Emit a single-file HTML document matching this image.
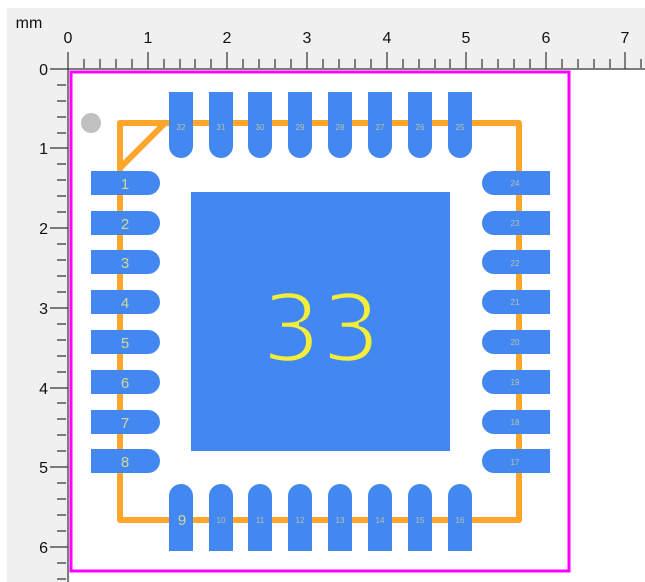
<!DOCTYPE html>
<html><head><meta charset="utf-8"><style>
html,body{margin:0;padding:0;background:#fff;}
svg{display:block;font-family:"Liberation Sans","DejaVu Sans",sans-serif;}
</style></head><body>
<svg width="645" height="582" viewBox="0 0 645 582" xmlns="http://www.w3.org/2000/svg">
<rect x="7" y="8" width="638" height="61" fill="#f0f0f0"/>
<rect x="7" y="8" width="63" height="574" fill="#f0f0f0"/>
<g stroke="#333" stroke-width="1.2" fill="none">
<path d="M68 69H645M84 59V68M100 59V68M116 59V68M132 59V68M164 59V68M180 59V68M195 59V68M211 59V68M243 59V68M259 59V68M275 59V68M291 59V68M323 59V68M339 59V68M355 59V68M371 59V68M403 59V68M419 59V68M435 59V68M450 59V68M482 59V68M498 59V68M514 59V68M530 59V68M562 59V68M578 59V68M594 59V68M610 59V68M641 59V68"/>
<path d="M68 52V69M148 52V69M227 52V69M307 52V69M387 52V69M466 52V69M546 52V69M625 52V69"/>
<path d="M68 69V582M57 85H66M57 101H66M57 117H66M57 133H66M57 164H66M57 180H66M57 196H66M57 212H66M57 244H66M57 260H66M57 276H66M57 292H66M57 324H66M57 340H66M57 356H66M57 372H66M57 403H66M57 419H66M57 435H66M57 451H66M57 483H66M57 499H66M57 515H66M57 531H66M57 563H66M57 579H66"/>
<path d="M50 69H68M50 148H68M50 228H68M50 308H68M50 388H68M50 467H68M50 547H68"/>
</g>
<g font-size="16" fill="#111" text-anchor="middle">
<text x="29" y="28">mm</text>
<text x="68" y="43">0</text><text x="148" y="43">1</text><text x="227" y="43">2</text><text x="307" y="43">3</text><text x="387" y="43">4</text><text x="466" y="43">5</text><text x="546" y="43">6</text><text x="625" y="43">7</text>
</g>
<g font-size="16" fill="#111" text-anchor="end">
<text x="48" y="75">0</text><text x="48" y="154">1</text><text x="48" y="234">2</text><text x="48" y="314">3</text><text x="48" y="394">4</text><text x="48" y="473">5</text><text x="48" y="553">6</text>
</g>
<rect x="71" y="72" width="498" height="499" fill="#fff" stroke="#ff00ff" stroke-width="3"/>
<circle cx="91" cy="123" r="10" fill="#c0c0c0"/>
<g stroke="#ffa52a" stroke-width="6" fill="none" stroke-linejoin="round">
<path d="M120 123H519V520H120Z"/>
<path d="M120 168L165 123"/>
</g>
<g fill="#4387f0">
<rect x="191" y="192" width="259" height="259"/>
<rect x="169" y="92" width="24" height="54"/><circle cx="181" cy="146" r="12"/>
<rect x="209" y="92" width="24" height="54"/><circle cx="221" cy="146" r="12"/>
<rect x="248" y="92" width="24" height="54"/><circle cx="260" cy="146" r="12"/>
<rect x="288" y="92" width="24" height="54"/><circle cx="300" cy="146" r="12"/>
<rect x="328" y="92" width="24" height="54"/><circle cx="340" cy="146" r="12"/>
<rect x="368" y="92" width="24" height="54"/><circle cx="380" cy="146" r="12"/>
<rect x="408" y="92" width="24" height="54"/><circle cx="420" cy="146" r="12"/>
<rect x="448" y="92" width="24" height="54"/><circle cx="460" cy="146" r="12"/>
<rect x="169" y="496" width="24" height="55"/><circle cx="181" cy="496" r="12"/>
<rect x="209" y="496" width="24" height="55"/><circle cx="221" cy="496" r="12"/>
<rect x="248" y="496" width="24" height="55"/><circle cx="260" cy="496" r="12"/>
<rect x="288" y="496" width="24" height="55"/><circle cx="300" cy="496" r="12"/>
<rect x="328" y="496" width="24" height="55"/><circle cx="340" cy="496" r="12"/>
<rect x="368" y="496" width="24" height="55"/><circle cx="380" cy="496" r="12"/>
<rect x="408" y="496" width="24" height="55"/><circle cx="420" cy="496" r="12"/>
<rect x="448" y="496" width="24" height="55"/><circle cx="460" cy="496" r="12"/>
<rect x="91" y="171" width="57" height="24"/><circle cx="148" cy="183" r="12"/>
<rect x="91" y="211" width="57" height="24"/><circle cx="148" cy="223" r="12"/>
<rect x="91" y="250" width="57" height="24"/><circle cx="148" cy="262" r="12"/>
<rect x="91" y="290" width="57" height="24"/><circle cx="148" cy="302" r="12"/>
<rect x="91" y="330" width="57" height="24"/><circle cx="148" cy="342" r="12"/>
<rect x="91" y="370" width="57" height="24"/><circle cx="148" cy="382" r="12"/>
<rect x="91" y="410" width="57" height="24"/><circle cx="148" cy="422" r="12"/>
<rect x="91" y="449" width="57" height="24"/><circle cx="148" cy="461" r="12"/>
<rect x="494" y="171" width="56" height="24"/><circle cx="494" cy="183" r="12"/>
<rect x="494" y="211" width="56" height="24"/><circle cx="494" cy="223" r="12"/>
<rect x="494" y="250" width="56" height="24"/><circle cx="494" cy="262" r="12"/>
<rect x="494" y="290" width="56" height="24"/><circle cx="494" cy="302" r="12"/>
<rect x="494" y="330" width="56" height="24"/><circle cx="494" cy="342" r="12"/>
<rect x="494" y="370" width="56" height="24"/><circle cx="494" cy="382" r="12"/>
<rect x="494" y="410" width="56" height="24"/><circle cx="494" cy="422" r="12"/>
<rect x="494" y="449" width="56" height="24"/><circle cx="494" cy="461" r="12"/>
</g>
<text x="321" y="361" font-size="94" fill="#f4ee3a" stroke="#4387f0" stroke-width="3.5" text-anchor="middle" style="font-family:'DejaVu Sans',sans-serif">33</text>
<g fill="#cfd89a" text-anchor="middle" font-size="15">
<text x="125" y="189">1</text><text x="125" y="229">2</text><text x="125" y="268">3</text><text x="125" y="308">4</text><text x="125" y="348">5</text><text x="125" y="388">6</text><text x="125" y="428">7</text><text x="125" y="467">8</text>
<text x="182" y="525">9</text>
</g>
<g fill="#b7c3b0" text-anchor="middle" font-size="8">
<text x="221" y="523">10</text><text x="260" y="523">11</text><text x="300" y="523">12</text><text x="340" y="523">13</text><text x="380" y="523">14</text><text x="420" y="523">15</text><text x="460" y="523">16</text>
<text x="515" y="465">17</text><text x="515" y="425">18</text><text x="515" y="385">19</text><text x="515" y="345">20</text><text x="515" y="305">21</text><text x="515" y="266">22</text><text x="515" y="226">23</text><text x="515" y="186">24</text>
<text x="460" y="130">25</text><text x="420" y="130">26</text><text x="380" y="130">27</text><text x="340" y="130">28</text><text x="300" y="130">29</text><text x="260" y="130">30</text><text x="221" y="130">31</text><text x="181" y="130">32</text>
</g>
</svg>
</body></html>
